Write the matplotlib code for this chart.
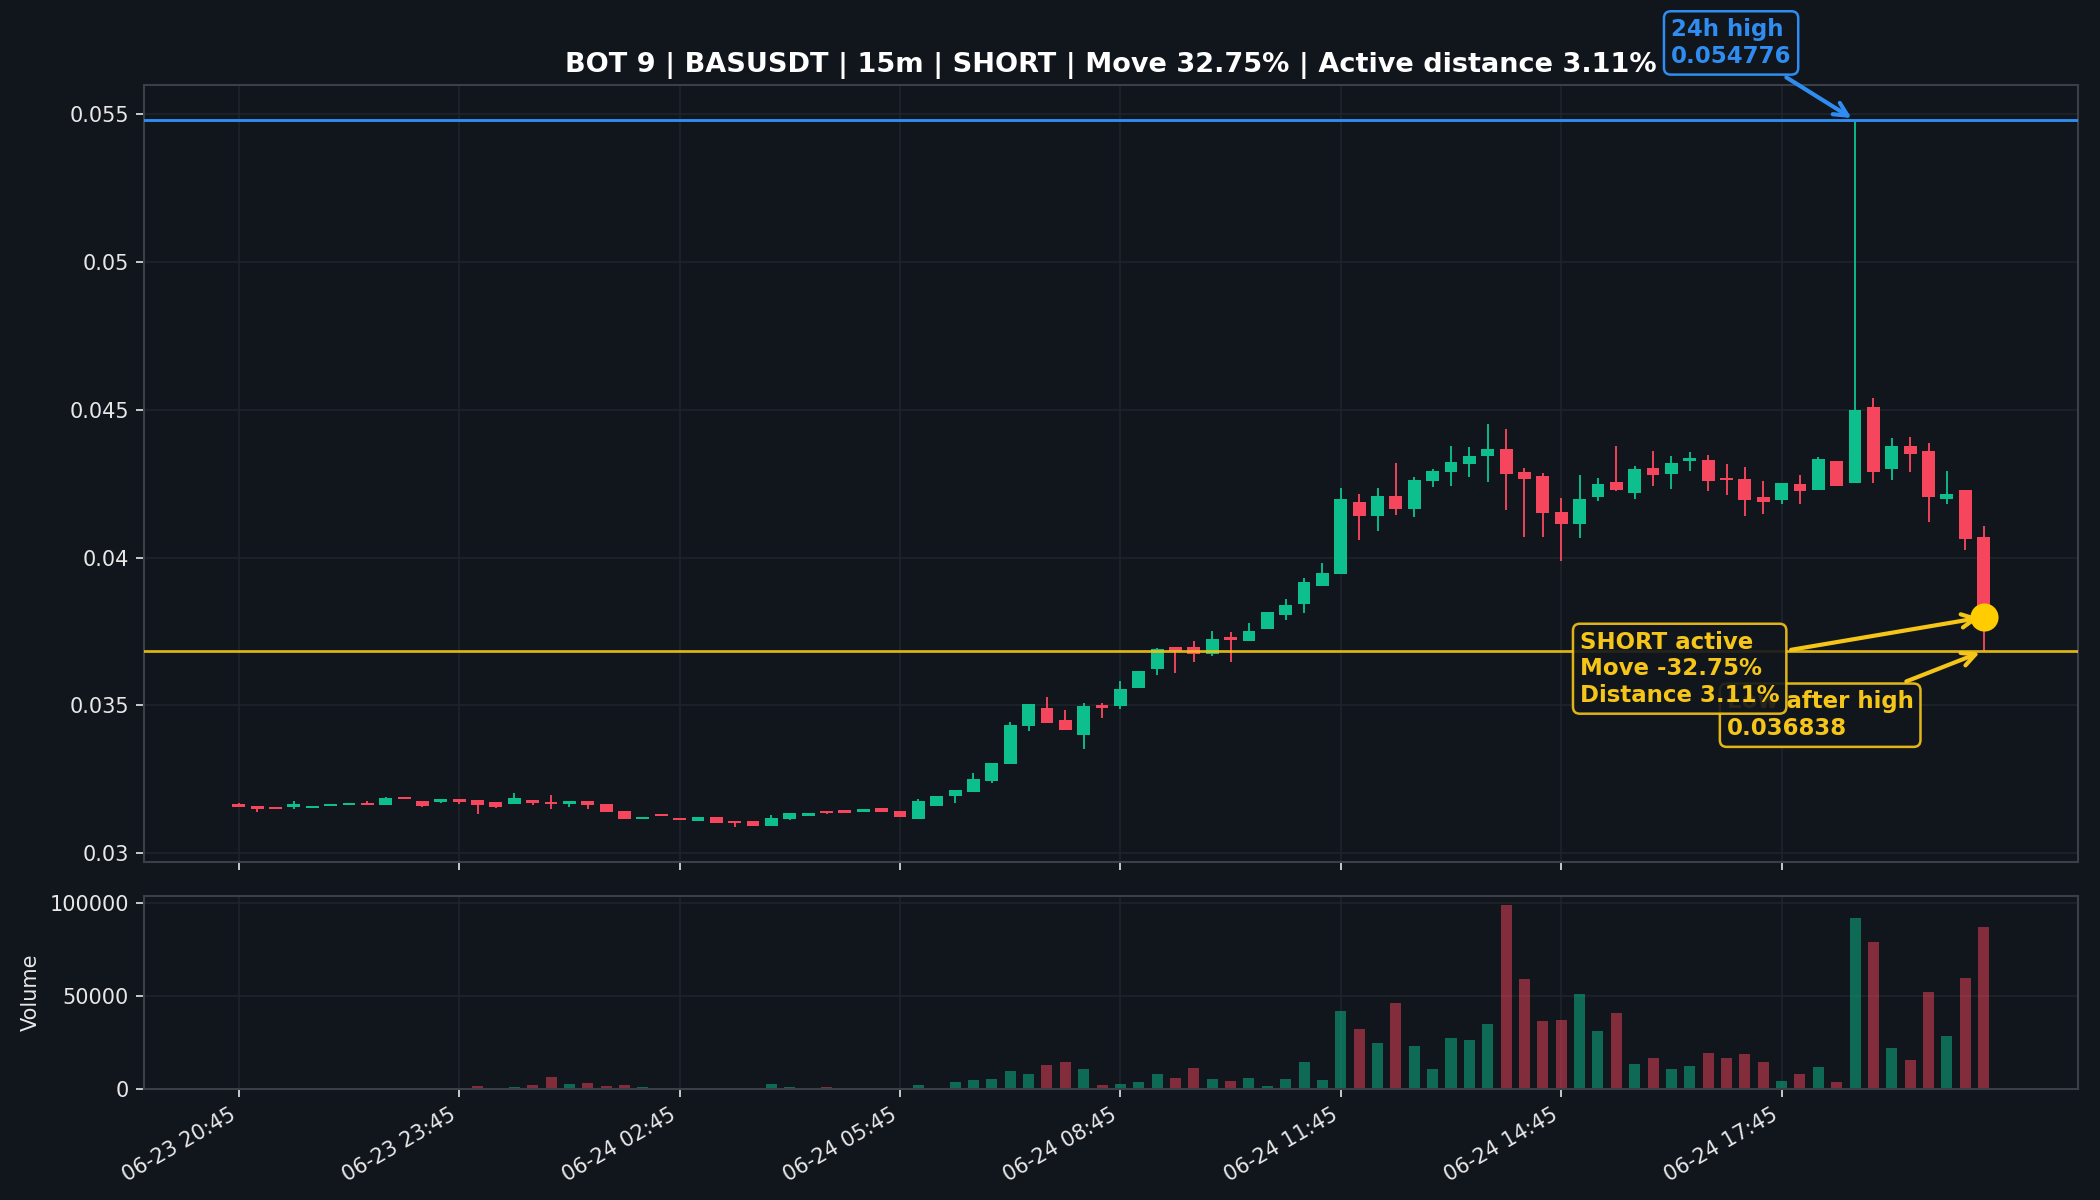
import matplotlib
matplotlib.use('Agg')
import matplotlib.pyplot as plt
from matplotlib.ticker import FuncFormatter

# ---------------- data ----------------
opens = [0.031681, 0.031603, 0.031569, 0.031569, 0.031535, 0.031603, 0.031636, 0.031715, 0.031625, 0.031907,
         0.031772, 0.031727, 0.031850, 0.031805, 0.031738, 0.031659, 0.031805, 0.031738, 0.031659, 0.031772,
         0.031681, 0.031434, 0.031152, 0.031332, 0.031186, 0.031085, 0.031231, 0.031096, 0.031085, 0.030916,
         0.031153, 0.031254, 0.031446, 0.031479, 0.031389, 0.031536, 0.031446, 0.031153, 0.031592, 0.031930,
         0.032076, 0.032437, 0.033022, 0.034294, 0.034925, 0.034508, 0.033990, 0.035015, 0.034981, 0.035589,
         0.036220, 0.036963, 0.036963, 0.036726, 0.037312, 0.037165, 0.037593, 0.038044, 0.038415, 0.039023,
         0.039440, 0.041883, 0.041388, 0.042075, 0.041625, 0.042570, 0.042874, 0.043145, 0.043415, 0.043663,
         0.042897, 0.042751, 0.041534, 0.041118, 0.042030, 0.042548, 0.042165, 0.043021, 0.042807, 0.043257,
         0.043302, 0.042693, 0.042660, 0.042052, 0.041928, 0.042480, 0.042266, 0.043268, 0.042513, 0.045081,
         0.042975, 0.043763, 0.043594, 0.041973, 0.042277, 0.040689]
highs = [0.031715, 0.031603, 0.031569, 0.031772, 0.031603, 0.031681, 0.031715, 0.031760, 0.031918, 0.031907,
         0.031772, 0.031839, 0.031850, 0.031805, 0.031738, 0.032053, 0.031805, 0.031986, 0.031772, 0.031772,
         0.031681, 0.031434, 0.031220, 0.031332, 0.031186, 0.031231, 0.031231, 0.031096, 0.031085, 0.031299,
         0.031367, 0.031367, 0.031446, 0.031479, 0.031502, 0.031536, 0.031446, 0.031840, 0.031941, 0.032144,
         0.032729, 0.033056, 0.034440, 0.035048, 0.035296, 0.034857, 0.035082, 0.035082, 0.035826, 0.036174,
         0.036951, 0.036963, 0.037188, 0.037526, 0.037492, 0.037796, 0.038156, 0.038607, 0.039305, 0.039823,
         0.042345, 0.042154, 0.042345, 0.043201, 0.042717, 0.042998, 0.043775, 0.043741, 0.044518, 0.044338,
         0.043021, 0.042852, 0.042007, 0.042784, 0.042683, 0.043775, 0.043077, 0.043606, 0.043437, 0.043572,
         0.043471, 0.043166, 0.043054, 0.042592, 0.042513, 0.042795, 0.043392, 0.043268, 0.054776, 0.045385,
         0.044034, 0.044067, 0.043865, 0.042930, 0.042277, 0.041050]
lows = [0.031569, 0.031389, 0.031502, 0.031513, 0.031535, 0.031603, 0.031636, 0.031625, 0.031625, 0.031828,
        0.031558, 0.031693, 0.031681, 0.031321, 0.031524, 0.031659, 0.031625, 0.031513, 0.031558, 0.031513,
        0.031389, 0.031152, 0.031152, 0.031254, 0.031119, 0.031085, 0.031017, 0.030905, 0.030916, 0.030916,
        0.031119, 0.031254, 0.031322, 0.031356, 0.031389, 0.031389, 0.031220, 0.031153, 0.031592, 0.031693,
        0.032076, 0.032369, 0.033022, 0.034125, 0.034395, 0.034159, 0.033540, 0.034564, 0.034868, 0.035589,
        0.036039, 0.036084, 0.036456, 0.036659, 0.036456, 0.037165, 0.037593, 0.037897, 0.038111, 0.039023,
        0.039440, 0.040577, 0.040881, 0.041444, 0.041365, 0.042368, 0.042401, 0.042705, 0.042537, 0.041591,
        0.040690, 0.040690, 0.039868, 0.040656, 0.041895, 0.042233, 0.041962, 0.042424, 0.042300, 0.042908,
        0.042232, 0.042097, 0.041387, 0.041477, 0.041815, 0.041815, 0.042266, 0.042401, 0.042513, 0.042513,
        0.042604, 0.042874, 0.041185, 0.041804, 0.040239, 0.036838]
closes = [0.031569, 0.031490, 0.031502, 0.031681, 0.031603, 0.031681, 0.031715, 0.031625, 0.031884, 0.031828,
          0.031592, 0.031839, 0.031727, 0.031625, 0.031558, 0.031884, 0.031693, 0.031670, 0.031772, 0.031625,
          0.031389, 0.031152, 0.031220, 0.031254, 0.031119, 0.031231, 0.031017, 0.031017, 0.030916, 0.031186,
          0.031367, 0.031367, 0.031356, 0.031356, 0.031502, 0.031389, 0.031220, 0.031772, 0.031941, 0.032144,
          0.032515, 0.033056, 0.034350, 0.035048, 0.034395, 0.034159, 0.034992, 0.034925, 0.035555, 0.036174,
          0.036906, 0.036827, 0.036726, 0.037244, 0.037210, 0.037526, 0.038156, 0.038404, 0.039170, 0.039474,
          0.041985, 0.041388, 0.042075, 0.041625, 0.042627, 0.042931, 0.043223, 0.043437, 0.043663, 0.042818,
          0.042649, 0.041489, 0.041118, 0.041973, 0.042480, 0.042289, 0.042998, 0.042773, 0.043190, 0.043347,
          0.042570, 0.042615, 0.041928, 0.041883, 0.042513, 0.042232, 0.043324, 0.042401, 0.044991, 0.042874,
          0.043763, 0.043493, 0.042041, 0.042142, 0.040611, 0.037984]
volumes = [250, 180, 150, 220, 120, 160, 140, 200, 300, 180,
           260, 150, 210, 1800, 400, 1250, 2300, 6600, 2900, 3400,
           1800, 2300, 1250, 350, 300, 280, 420, 380, 500, 2900,
           1250, 450, 1250, 300, 250, 320, 600, 2300, 700, 4000,
           5000, 5600, 9800, 8300, 13100, 14700, 10900, 2300, 2900, 4000,
           8300, 6100, 11500, 5600, 4500, 6100, 1800, 5600, 14700, 5000,
           42100, 32400, 24900, 46500, 23300, 11000, 27600, 26600, 35100, 99100,
           59300, 36700, 37300, 51300, 31400, 41100, 13700, 16900, 11000, 12600,
           19600, 16900, 19000, 14700, 4500, 8300, 12000, 4000, 92100, 79200,
           22200, 15800, 52300, 28700, 59800, 87200]

tick_positions = [0, 12, 24, 36, 48, 60, 72, 84]
tick_labels = ["06-23 20:45", "06-23 23:45", "06-24 02:45", "06-24 05:45",
               "06-24 08:45", "06-24 11:45", "06-24 14:45", "06-24 17:45"]

high_24h = 0.054776
high_idx = 88
low_after_high = 0.036838
move_pct = 32.75
distance_pct = 3.11
title = "BOT 9 | BASUSDT | 15m | SHORT | Move 32.75% | Active distance 3.11%"

# ---------------- style ----------------
BG = '#11151c'
GREEN = '#0cbf8c'
RED = '#f6465d'
BLUE = '#2f8cf0'
YELLOW = '#f5c518'
GRID = '#1e232c'
SPINE = '#3a3f4a'
TXT = '#e8e8e8'

fig = plt.figure(figsize=(14, 8), dpi=150, facecolor=BG)
ax = fig.add_axes([0.0688, 0.2817, 0.9207, 0.6475])
axv = fig.add_axes([0.0688, 0.0923, 0.9207, 0.1613], sharex=ax)

n = len(closes)
x = list(range(n))
cols = [GREEN if c >= o else RED for o, c in zip(opens, closes)]

for a in (ax, axv):
    a.set_facecolor(BG)
    for s in a.spines.values():
        s.set_color(SPINE)
        s.set_linewidth(1.0)
    a.tick_params(colors=TXT, labelsize=10, length=4)
    a.grid(True, color=GRID, linewidth=0.8, zorder=0)
    a.set_axisbelow(True)

# candles
ax.vlines(x, lows, highs, colors=cols, linewidth=0.9, zorder=3)
bottoms = [min(o, c) for o, c in zip(opens, closes)]
heights = [max(abs(c - o), 0.00002) for o, c in zip(opens, closes)]
ax.bar(x, heights, bottom=bottoms, width=0.7, color=cols, linewidth=0, zorder=3)

# reference lines
ax.axhline(high_24h, color=BLUE, linewidth=1.4, zorder=4)
ax.axhline(low_after_high, color=YELLOW, linewidth=1.3, alpha=0.9, zorder=4)

# marker at last close
ax.plot([n - 1], [closes[-1]], 'o', color='#ffcc00', markersize=12.5, zorder=8)

# limits
rng = max(highs) - min(lows)
ax.set_ylim(min(lows) - 0.05 * rng, max(highs) + 0.05 * rng)
xr = (n - 1) + 0.7
ax.set_xlim(-0.35 - 0.05 * xr, n - 1 + 0.35 + 0.05 * xr)
ax.yaxis.set_major_formatter(FuncFormatter(lambda v, p: '{:g}'.format(round(v, 6))))

# annotations
ax.annotate("24h high\n{:.6f}".format(high_24h), xy=(high_idx, high_24h),
            xytext=(81.25, 0.05739), textcoords='data', ha='center', va='center',
            multialignment='left', color=BLUE, fontsize=11, fontweight='bold',
            bbox=dict(boxstyle='round,pad=0.3', fc=BG, ec=BLUE, lw=1.2),
            arrowprops=dict(arrowstyle='->', color=BLUE, lw=2, mutation_scale=16),
            annotation_clip=False, zorder=9)

ax.annotate("Low after high\n{:.6f}".format(low_after_high), xy=(n - 1, low_after_high),
            xytext=(86.1, 0.034671), textcoords='data', ha='center', va='center',
            multialignment='left', color=YELLOW, fontsize=11, fontweight='bold',
            bbox=dict(boxstyle='round,pad=0.3', fc=BG, ec=YELLOW, lw=1.2, alpha=0.92),
            arrowprops=dict(arrowstyle='->', color=YELLOW, lw=2, mutation_scale=16),
            zorder=6)

ax.annotate("SHORT active\nMove -{:.2f}%\nDistance {:.2f}%".format(move_pct, distance_pct),
            xy=(n - 1, closes[-1]),
            xytext=(78.45, 0.036242), textcoords='data', ha='center', va='center',
            multialignment='left', color=YELLOW, fontsize=11, fontweight='bold',
            bbox=dict(boxstyle='round,pad=0.3', fc=BG, ec=YELLOW, lw=1.2, alpha=0.9),
            arrowprops=dict(arrowstyle='->', color=YELLOW, lw=2, mutation_scale=16),
            zorder=7)

ax.set_title(title, color='white', fontsize=13, fontweight='bold', pad=6)
ax.tick_params(axis='x', labelbottom=False)

# volume
vcols = [GREEN if c >= o else RED for o, c in zip(opens, closes)]
axv.bar(x, volumes, width=0.6, color=vcols, alpha=0.5, linewidth=0, zorder=2)
axv.set_ylim(0, max(volumes) * 1.05)
axv.set_yticks([0, 50000, 100000])
axv.set_yticklabels(['0', '50000', '100000'])
axv.set_ylabel('Volume', color=TXT, fontsize=10)
axv.set_xticks(tick_positions)
axv.set_xticklabels(tick_labels, rotation=30, ha='right')

fig.savefig('out.png', dpi=150, facecolor=BG)
